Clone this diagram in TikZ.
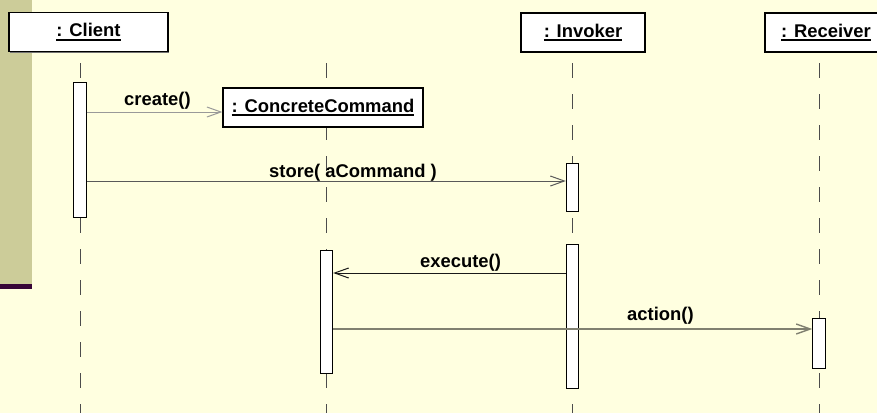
\documentclass[tikz,border=0pt]{standalone}
\usepackage{fontspec}
\setmainfont{Liberation Sans}
\usetikzlibrary{arrows.meta}
\usetikzlibrary{shadows}

\definecolor{slidebg}{RGB}{255,255,224}
\definecolor{stripe}{RGB}{204,204,153}
\definecolor{plum}{RGB}{55,5,55}
\definecolor{msggray}{RGB}{128,128,112}

\newcommand{\objname}[1]{\setbox0\hbox{#1}\rlap{\rule[-3.8pt]{\wd0}{1.8pt}}\box0}

\begin{document}
\begin{tikzpicture}[x=1pt, y=-1pt,
  object/.style={draw, fill=white, line width=1.2pt, inner sep=0pt, minimum height=39pt,
    font=\fontsize{18.4}{20}\selectfont\bfseries,
    drop shadow={shadow xshift=1.2pt, shadow yshift=-1.2pt, fill=black!55, opacity=1}},
  act/.style={draw, fill=white, line width=0.9pt, minimum width=12.5pt, inner sep=0pt},
  lifeline/.style={draw=black!70, line width=1pt, dash pattern=on 15pt off 16pt},
  msg/.style={-{Straight Barb[length=14pt,width=10pt]}, line width=1pt},
  msglabel/.style={font=\fontsize{18.4}{20}\selectfont\bfseries, anchor=base west, inner sep=0pt}]
\useasboundingbox (0,0) rectangle (877,413);
\clip (0,0) rectangle (877,413);
\fill[slidebg] (0,0) rectangle (877,413);
\fill[stripe] (0,0) rectangle (32,285);
\fill[plum] (0,284) rectangle (32,289);

% lifelines
\foreach \x in {80, 326.5, 572.5, 819}
  \draw[lifeline] (\x,63) -- (\x,413);

% objects
\node[object, minimum width=159pt] (client) at (88.5,32) {\objname{: Client}};
\node[object, minimum width=124pt] (invoker) at (583,32.5) {\objname{: Invoker}};
\node[object, minimum width=122pt] (receiver) at (826,32.5) {\objname{: Receiver}};
\node[object, minimum width=200pt] (command) at (323,107.5) {\objname{: ConcreteCommand}};

% activations
\node[act, minimum height=135pt] (clientact) at (80,149.5) {};
\node[act, minimum height=123pt] (commandact) at (326.5,311.5) {};
\node[act, minimum height=48pt] (invokeractA) at (572.5,187) {};
\node[act, minimum height=144pt] (invokeractB) at (572.5,316) {};
\node[act, minimum height=50pt] (receiveract) at (819,343) {};

% messages
\coordinate (ycreate) at (0,112);
\coordinate (ystore) at (0,181);
\coordinate (yexecute) at (0,273);
\coordinate (yaction) at (0,329);
\draw[msg, draw=black!40] (clientact.east |- ycreate) -- (command.west |- ycreate);
\draw[msg, draw=black!65] (clientact.east |- ystore) -- (invokeractA.west |- ystore);
\draw[msg, draw=black!90] (invokeractB.west |- yexecute) -- (commandact.east |- yexecute);
\draw[msg, draw=msggray, line width=1.4pt] (commandact.east |- yaction) -- (receiveract.west |- yaction);

\node[msglabel] (createlbl) at (124,105) {create()};
\node[msglabel] (storelbl) at (269,177) {store( aCommand )};
\node[msglabel] (executelbl) at (420,267) {execute()};
\node[msglabel] (actionlbl) at (627,320) {action()};
\end{tikzpicture}
\end{document}
